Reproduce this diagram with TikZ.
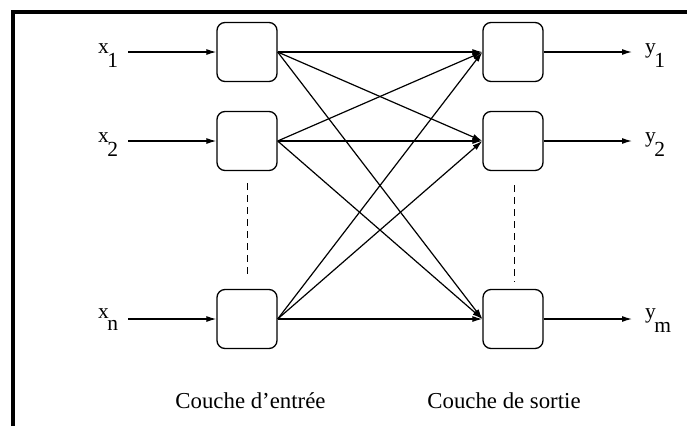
\documentclass[tikz,border=0pt]{standalone}
\usepackage{fontspec}
\setmainfont{Liberation Serif}
\usetikzlibrary{arrows.meta}
\begin{document}
\begin{tikzpicture}[x=1pt,y=-1pt,
  neuron/.style={draw,line width=1.3pt,rounded corners=8pt,minimum width=60pt,minimum height=59pt,inner sep=0pt},
  arr/.style={line width=1.2pt,-{Latex[length=10pt,width=6pt]}},
  dots/.style={line width=1pt,dash pattern=on 7pt off 5pt},
  lab/.style={anchor=base west,inner sep=0pt,font=\fontsize{21.5}{24}\selectfont},
  captext/.style={anchor=base,inner sep=0pt,font=\fontsize{22.8}{26}\selectfont},
  frameline/.style={line width=4pt}]
\useasboundingbox (0,0) rectangle (687,426);
% frame
\draw[frameline] (13,426) -- (13,12) -- (687,12);
% neurons
\node[neuron] (a1) at (247,52) {};
\node[neuron] (a2) at (247,141) {};
\node[neuron] (an) at (247,319) {};
\node[neuron] (b1) at (513,52) {};
\node[neuron] (b2) at (513,141) {};
\node[neuron] (bm) at (513,319) {};
% labels
\node[lab] (x1) at (98,53) {x\kern-1.5pt\raisebox{-14pt}{1}};
\node[lab] (x2) at (98,142) {x\kern-1.5pt\raisebox{-14pt}{2}};
\node[lab] (xn) at (98,318) {x\kern-1.5pt\raisebox{-12.5pt}{n}};
\node[lab] (y1) at (645,53) {y\kern-1.5pt\raisebox{-14.5pt}{1}};
\node[lab] (y2) at (645,142) {y\kern-1.5pt\raisebox{-14.5pt}{2}};
\node[lab] (ym) at (645,318) {y\kern-1.5pt\raisebox{-14.5pt}{m}};
% input arrow starts
\coordinate (i1) at (128,52);
\coordinate (i2) at (128,141);
\coordinate (in) at (128,319);
\draw[arr] (i1) -- (a1.west);
\draw[arr] (i2) -- (a2.west);
\draw[arr] (in) -- (an.west);
% output arrows
\coordinate (o1) at (632,52);
\coordinate (o2) at (632,141);
\coordinate (om) at (632,319);
\draw[arr] (b1.east) -- (o1);
\draw[arr] (b2.east) -- (o2);
\draw[arr] (bm.east) -- (om);
% full connections
\foreach \s in {a1,a2,an}{
  \foreach \t in {b1,b2,bm}{
    \draw[arr] (\s.east) -- (\t.west);
  }
}
% dashed ellipsis
\coordinate (da) at (247,183);
\coordinate (db) at (247,275);
\draw[dots] (da) -- (db);
\coordinate (dc) at (514,185);
\coordinate (dd) at (514,282);
\draw[dots] (dc) -- (dd);
% captions
\node[captext] (c1) at (250.5,408) {Couche d’entrée};
\node[captext] (c2) at (504,408) {Couche de sortie};
\end{tikzpicture}
\end{document}
